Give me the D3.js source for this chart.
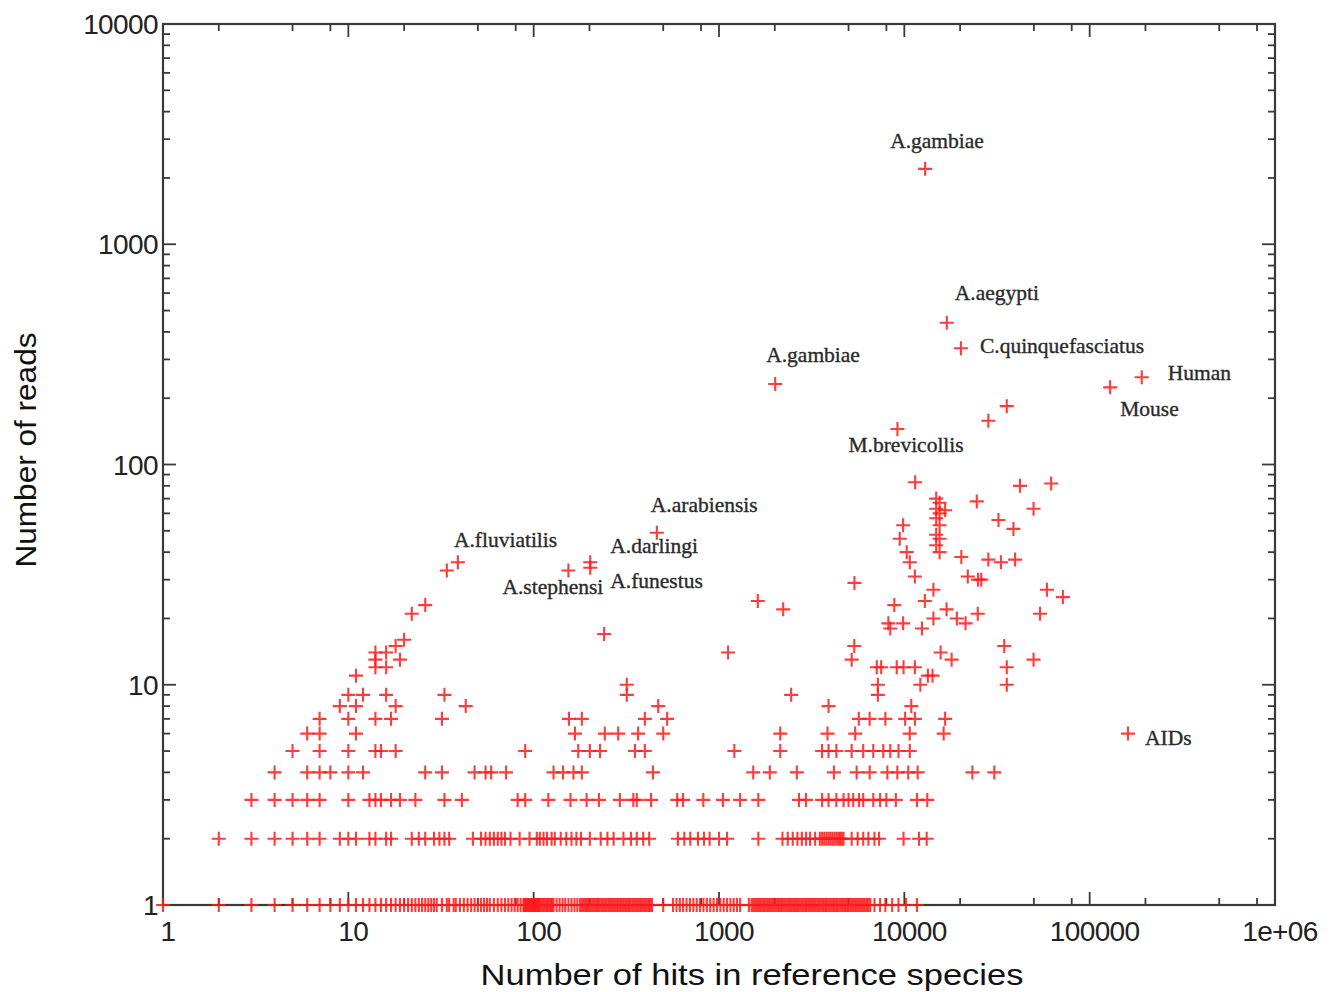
<!DOCTYPE html>
<html>
<head>
<meta charset="utf-8">
<script src="https://d3js.org/d3.v7.min.js"></script>
<style>
  body { margin: 0; background: #fff; }
  svg { display: block; }
  .tick-label { font-family: "Liberation Sans", Arial, sans-serif; font-size: 28px; fill: #222; letter-spacing: -0.6px; }
  .axis-title { font-family: "Liberation Sans", Arial, sans-serif; font-size: 29px; fill: #111; }
  .species { font-family: "Liberation Serif", "Times New Roman", serif; font-size: 21.5px; fill: #2a2a2a; stroke: #2a2a2a; stroke-width: 0.35px; }
</style>
</head>
<body>
<svg id="chart" width="1339" height="992"></svg>
<script>
// axis ticks
const xTicks = [1, 10, 100, 1000, 10000, 100000, 1000000];
const xTickLabels = ["1", "10", "100", "1000", "10000", "100000", "1e+06"];
const yTicks = [1, 10, 100, 1000, 10000];
const yTickLabels = ["1", "10", "100", "1000", "10000"];

// hits for the species with 1..9 reads (one row each)
const reads1Hits = [1,2,3,4,5,6,7,8,9,10,11,12,13,14,15,16,17,18,19,20,21,22,23,24,25,26,27,28,29,30,
  32,34,35,37,38,40,42,44,46,48,50,52,54,56,58,61,64,67,70,73,76,79,82,85,88,89,90,91,92,93,94,95,96,97,
  98,99,100,101,102,103,104,105,106,107,108,110,112,114,116,118,120,122,124,126,128,133,138,143,148,154,
  160,166,172,178,182,185,189,192,195,199,203,207,211,215,219,223,227,232,236,241,245,250,255,260,265,270,
  275,281,286,292,297,303,309,315,321,327,333,340,346,353,360,367,374,381,388,396,403,411,419,427,435,
  500,565,590,615,640,668,697,727,758,790,824,860,897,935,975,1017,1060,1105,1152,1200,1250,1300,
  1450,1500,1530,1560,1590,1620,1650,1680,1715,1750,1785,1820,1855,1890,1925,1960,2000,2040,2080,2120,
  2160,2200,2245,2290,2335,2380,2425,2470,2520,2570,2620,2670,2725,2780,2835,2890,2945,3000,3060,3120,
  3180,3240,3300,3370,3435,3500,3570,3640,3710,3780,3855,3930,4010,4090,4170,4250,4335,4420,4510,4600,
  4690,4780,4875,4970,5070,5170,5275,5380,5490,5600,5710,5820,5935,6050,6175,6300,6420,6550,6900,7400,
  7900,8600,9300,10200,11700];
const reads2Hits = [2,3,4,5,6,7,9,10,11,13,14,16,17,22,24,26,29,31,33,35,47,52,55,58,61,64,67,70,75,84,95,
  104,108,113,118,125,130,140,150,160,170,180,201,230,250,270,305,335,360,390,420,600,650,700,770,830,890,
  1000,1105,1630,2200,2350,2500,2650,2800,2950,3100,3300,3500,3600,3700,3800,3900,4000,4100,4200,4300,4400,
  4500,4600,4700,5200,5600,6000,6400,6900,7300,9900,12000,13200];
const reads3Hits = [3,4,5,6,7,10,13,14,15,17,19,23,33,41,82,90,120,158,193,225,292,345,360,430,595,640,823,
  1050,1300,1630,2700,2950,3600,3900,4300,4700,5000,5300,5700,6000,6800,7400,8000,9000,11700,13300];
const reads4Hits = [4,6,7,8,10,12,26,32,48,55,59,71,128,144,164,182,440,1530,1880,2630,4170,5530,6500,
  8100,9170,10500,11800,23300,30600];
const reads5Hits = [5,7,10,14,15,18,90,174,201,228,352,398,1210,2140,3600,3900,4300,5200,6000,6800,7700,
  8400,9300,10700];
const reads6Hits = [6,7,11,167,242,286,366,500,2140,3850,5430,10700,16300];
const reads7Hits = [7,10,14,17,32,155,182,398,525,5680,6500,7900,10100,11400,16600];
const reads8Hits = [9,11,18,43,470,3900,10900];
const reads9Hits = [10,12,16,33,318,2450,7200];

// remaining species: [hits, reads]
const otherPoints = [
  [22,21],[26,23],[20,16],[18,15],[14,14],[16,14],[14,13],[16,12],[14,12],[19,13],[11,11],
  [34,33],[39,36],[154,33],[202,34],[202,36],[462,49],[240,17],[1620,24],[2220,22],[1120,14],[318,10],[7200,10],
  [12950,2200],[16950,440],[20200,337],[129000,224],[191000,249],[28400,158],[35700,184],[9180,145],[2010,232],
  [161000,6],
  [11440,83],[42100,80],[62000,82],[24600,68],[49800,63],[32200,56],[38800,51],[20300,38],[28400,37],[33200,36],
  [39600,37],[22000,31],[25000,30],[26000,30],[58800,27],[71700,25],[54000,21],[24900,21],[34600,15],[49800,13],
  [35700,12],[35700,10],
  [14860,70],[15500,67],[14860,63],[15500,60],[14860,57],[15500,53],[14860,48],[15500,46],[14860,43],[15500,40],
  [16600,62],[9850,53],[9450,46],[10300,40],[10700,36],[11400,31],[5380,29],[14350,27],[12900,24],[8830,23],
  [16900,22],[14350,20],[19200,20],[21400,19],[8200,19],[9850,19],[8400,18],[12450,18],[5370,15],[5200,13],
  [15700,14],[18000,13],[7100,12],[7500,12],[9100,12],[9900,12],[11400,12],[13400,11],[14200,11],[12200,10]
];

// annotated species and the point each name belongs to
const labelNames = ["A.gambiae", "A.aegypti", "C.quinquefasciatus", "A.gambiae", "Human", "Mouse",
  "M.brevicollis", "A.arabiensis", "A.fluviatilis", "A.darlingi", "A.stephensi", "A.funestus", "AIDs"];
const labelHits = [12950, 16950, 20200, 2010, 191000, 129000, 9180, 462, 39, 202, 154, 202, 161000];
const labelReads = [2200, 440, 337, 232, 249, 224, 145, 49, 36, 36, 33, 34, 6];

(function () {
  const svg = d3.select("#chart");
  const left = 163, right = 1275, top = 24, bottom = 905;

  const x = d3.scaleLog().domain([1, 1e6]).range([left, right]);
  const y = d3.scaleLog().domain([1, 1e4]).range([bottom, top]);

  // collect all points
  const rows = [reads1Hits, reads2Hits, reads3Hits, reads4Hits, reads5Hits,
                reads6Hits, reads7Hits, reads8Hits, reads9Hits];
  let points = [];
  rows.forEach((hits, i) => hits.forEach(h => points.push([h, i + 1])));
  points = points.concat(otherPoints);

  // frame
  const axisCol = "#3a3a3a";
  svg.append("rect")
    .attr("x", left).attr("y", top)
    .attr("width", right - left).attr("height", bottom - top)
    .attr("fill", "none").attr("stroke", axisCol).attr("stroke-width", 2.2);

  // ticks, all pointing inward
  const g = svg.append("g").attr("stroke", axisCol).attr("stroke-width", 1.8);
  const majorLen = 13, minorLen = 7;
  for (let d = 1; d < 1e6; d *= 10) {
    [2, 5, 8].forEach(m => {
      const px = x(d * m);
      g.append("line").attr("x1", px).attr("x2", px).attr("y1", bottom).attr("y2", bottom - minorLen);
      g.append("line").attr("x1", px).attr("x2", px).attr("y1", top).attr("y2", top + minorLen);
    });
  }
  xTicks.forEach(v => {
    const px = x(v);
    g.append("line").attr("x1", px).attr("x2", px).attr("y1", bottom).attr("y2", bottom - majorLen);
    g.append("line").attr("x1", px).attr("x2", px).attr("y1", top).attr("y2", top + majorLen);
  });
  for (let d = 1; d < 1e4; d *= 10) {
    for (let m = 2; m <= 9; m++) {
      const py = y(d * m);
      g.append("line").attr("x1", left).attr("x2", left + minorLen).attr("y1", py).attr("y2", py);
      g.append("line").attr("x1", right).attr("x2", right - minorLen).attr("y1", py).attr("y2", py);
    }
  }
  yTicks.forEach(v => {
    const py = y(v);
    g.append("line").attr("x1", left).attr("x2", left + majorLen).attr("y1", py).attr("y2", py);
    g.append("line").attr("x1", right).attr("x2", right - majorLen).attr("y1", py).attr("y2", py);
  });

  // tick labels
  svg.selectAll(".xl").data(xTicks).enter().append("text")
    .attr("class", "tick-label")
    .attr("x", d => x(d) + 5).attr("y", 941)
    .attr("text-anchor", "middle")
    .text((d, i) => xTickLabels[i]);
  svg.selectAll(".yl").data(yTicks).enter().append("text")
    .attr("class", "tick-label")
    .attr("x", left - 5).attr("y", d => y(d) + 10)
    .attr("text-anchor", "end")
    .text((d, i) => yTickLabels[i]);

  // axis titles
  svg.append("text").attr("class", "axis-title")
    .attr("x", 752).attr("y", 985).attr("text-anchor", "middle")
    .attr("textLength", 543).attr("lengthAdjust", "spacingAndGlyphs")
    .text("Number of hits in reference species");
  svg.append("text").attr("class", "axis-title")
    .attr("transform", "translate(36,450) rotate(-90)")
    .attr("text-anchor", "middle")
    .attr("textLength", 235).attr("lengthAdjust", "spacingAndGlyphs")
    .text("Number of reads");

  // crosses
  svg.append("g").selectAll("path").data(points).enter().append("path")
    .attr("d", "M-7,0H7M0,-7V7")
    .attr("transform", d => `translate(${x(d[0])},${y(d[1])})`)
    .attr("stroke", "#ff1a1a").attr("stroke-width", 2.1).attr("stroke-opacity", 0.85)
    .attr("fill", "none");

  // species names, offsets in pixels from their point
  const offsets = [[-35, -26], [8, -28], [19, 0], [-9, -27], [26, -2], [10, 24],
                   [-49, 18], [-6, -26], [-4, -20], [20, -14], [-66, 19], [20, 15], [17, 6]];
  svg.selectAll(".species").data(labelNames).enter().append("text")
    .attr("class", "species")
    .attr("x", (d, i) => x(labelHits[i]) + offsets[i][0])
    .attr("y", (d, i) => y(labelReads[i]) + offsets[i][1])
    .attr("dominant-baseline", "middle")
    .text(d => d);
})();
</script>
</body>
</html>
